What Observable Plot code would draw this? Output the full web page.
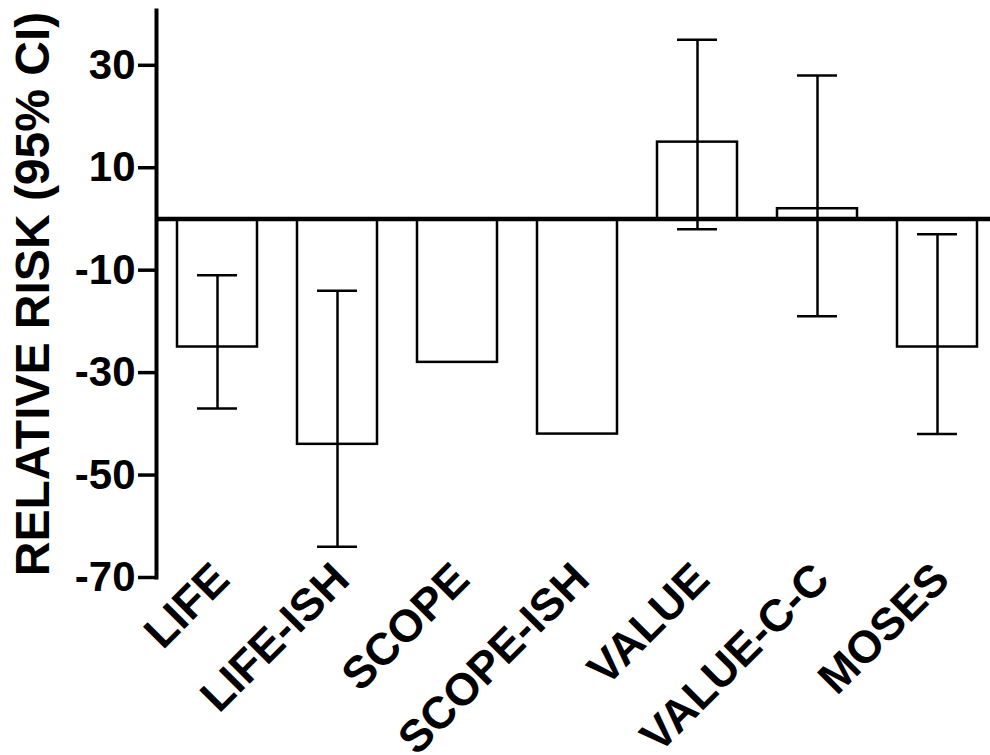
<!DOCTYPE html>
<html>
<head>
<meta charset="utf-8">
<script src="https://cdn.jsdelivr.net/npm/d3@7"></script>
<script src="https://cdn.jsdelivr.net/npm/@observablehq/plot@0.6"></script>
<style>
  html, body { margin: 0; padding: 0; background: #fff; overflow: hidden; }
  svg { display: block; }
</style>
</head>
<body>
<div id="chart"></div>
<script>
const categories = ["LIFE", "LIFE-ISH", "SCOPE", "SCOPE-ISH", "VALUE", "VALUE-C-C", "MOSES"];
const values = [-25, -44, -28, -42, 15, 2, -25];
const lower = [-37, -64, null, null, -2, -19, -42];
const upper = [-11, -14, null, null, 35, 28, -3];
const yTicks = [30, 10, -10, -30, -50, -70];
const yLabel = "RELATIVE RISK (95% CI)";

const data = categories.map((c, i) => ({cat: c, value: values[i], lo: lower[i], hi: upper[i]}));
const errs = data.filter(d => d.lo != null);

const chart = Plot.plot({
  width: 990,
  height: 755,
  marginTop: 10,
  marginBottom: 178,
  marginLeft: 156,
  marginRight: 0,
  style: {fontFamily: "'Liberation Sans', Arial, sans-serif", background: "#fff", color: "#000"},
  x: {domain: categories, range: [156, 998], paddingInner: 0.335, paddingOuter: 0.1675},
  y: {domain: [-70, 40.7]},
  marks: [
    Plot.barY(data, {x: "cat", y: "value", fill: "#fff", stroke: "#000", strokeWidth: 2.5}),
    Plot.ruleX(errs, {x: "cat", y1: "lo", y2: "hi", stroke: "#000", strokeWidth: 2.5}),
    Plot.tickY(errs, {x: "cat", y: "lo", stroke: "#000", strokeWidth: 2.5, insetLeft: 20, insetRight: 20}),
    Plot.tickY(errs, {x: "cat", y: "hi", stroke: "#000", strokeWidth: 2.5, insetLeft: 20, insetRight: 20}),
    Plot.ruleY([0], {stroke: "#000", strokeWidth: 4.5}),
    Plot.frame({anchor: "left", stroke: "#000", strokeWidth: 4}),
    Plot.axisY({ticks: yTicks, tickFormat: d => String(d), tickSize: 18, tickPadding: 3,
      fontSize: 42, fontWeight: "bold", strokeWidth: 3.5, label: null}),
    Plot.axisX({tickSize: 0, tickRotate: -45, fontSize: 45, fontWeight: "bold", label: null,
      tickPadding: 0, dx: 4, dy: -6}),
    Plot.text([yLabel], {frameAnchor: "left", rotate: -90, dx: -123, fontSize: 48, fontWeight: "bold",
      fill: "#000", textAnchor: "middle", lineAnchor: "middle"})
  ]
});
document.getElementById("chart").appendChild(chart);
</script>
</body>
</html>
